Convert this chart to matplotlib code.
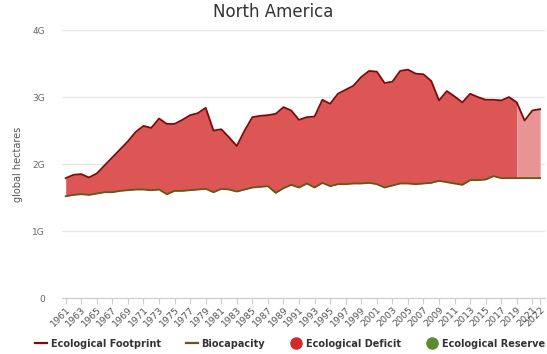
import numpy as np
import matplotlib.pyplot as plt
from matplotlib.lines import Line2D

# data (billions of global hectares)
years = np.arange(1961, 2023)
footprint = [
    1.79, 1.84, 1.85, 1.80, 1.86, 1.98, 2.10, 2.22, 2.34, 2.48,
    2.57, 2.54, 2.68, 2.60, 2.60, 2.66, 2.73, 2.76, 2.84, 2.50,
    2.52, 2.40, 2.27, 2.50, 2.70, 2.72, 2.73, 2.75, 2.85, 2.80,
    2.66, 2.70, 2.71, 2.96, 2.90, 3.05, 3.11, 3.17, 3.30, 3.39,
    3.38, 3.21, 3.23, 3.39, 3.41, 3.35, 3.34, 3.24, 2.95, 3.09,
    3.01, 2.92, 3.05, 3.00, 2.96, 2.96, 2.95, 3.00, 2.92, 2.65,
    2.80, 2.82,
]
biocapacity = [
    1.52, 1.54, 1.55, 1.54, 1.56, 1.58, 1.58, 1.60, 1.61, 1.62,
    1.62, 1.61, 1.62, 1.55, 1.60, 1.60, 1.61, 1.62, 1.63, 1.58,
    1.63, 1.62, 1.59, 1.62, 1.65, 1.66, 1.67, 1.57, 1.64, 1.69,
    1.65, 1.71, 1.65, 1.72, 1.67, 1.70, 1.70, 1.71, 1.71, 1.72,
    1.70, 1.65, 1.68, 1.71, 1.71, 1.70, 1.71, 1.72, 1.75, 1.73,
    1.71, 1.69, 1.76, 1.76, 1.77, 1.82, 1.79, 1.79, 1.79, 1.79,
    1.79, 1.79,
]
nowcast_from = 2019
tick_years = list(range(1961, 2022, 2)) + [2022]
ytick_vals = [0, 1, 2, 3, 4]
ytick_labels = ["0", "1G", "2G", "3G", "4G"]

fp = np.array(footprint)
bc = np.array(biocapacity)

fig = plt.figure(figsize=(5.47, 3.54), dpi=100)
ax = fig.add_axes([0.113, 0.158, 0.883, 0.757])

deficit_col = "#dc5656"
light_col = "#e89494"
fp_col = "#7d0a0a"
bc_col = "#5f5a17"

# dark fill up to the last measured year, lighter after
m = years <= nowcast_from
ax.fill_between(years[m], bc[m], fp[m], where=fp[m] >= bc[m],
                color=deficit_col, lw=0, zorder=2)
m2 = years >= nowcast_from
ax.fill_between(years[m2], bc[m2], fp[m2], color=light_col, lw=0, zorder=2)
ax.plot(years, fp, color=fp_col, lw=1.3, zorder=3)
ax.plot(years, bc, color=bc_col, lw=1.3, zorder=3)

ax.set_xlim(1960.5, 2022.6)
ax.set_ylim(0, 4)
ax.set_yticks(ytick_vals)
ax.set_yticklabels(ytick_labels)
ax.set_xticks(tick_years)
ax.set_xticklabels([str(y) for y in tick_years], rotation=45, ha="right",
                   rotation_mode="anchor")
ax.grid(axis="y", color="#e6e6e6", lw=0.9, zorder=0)
ax.set_axisbelow(True)
for s in ["top", "right", "left"]:
    ax.spines[s].set_visible(False)
ax.spines["bottom"].set_color("#cccccc")
ax.tick_params(axis="y", length=0, labelsize=6.5, labelcolor="#666666", pad=12)
ax.tick_params(axis="x", length=4, color="#cccccc", labelsize=6.8,
               labelcolor="#555555", pad=1)
ax.set_ylabel("global hectares", fontsize=7, color="#555555", labelpad=7)
fig.text(0.5, 0.965, "North America", ha="center", va="center",
         fontsize=12, color="#333333")

handles = [
    Line2D([], [], color=fp_col, lw=1.6),
    Line2D([], [], color=bc_col, lw=1.6),
    Line2D([], [], color="#d42a2a", marker="o", ms=8, lw=0),
    Line2D([], [], color="#5c8a2e", marker="o", ms=8, lw=0),
]
labels = ["Ecological Footprint", "Biocapacity", "Ecological Deficit",
          "Ecological Reserve"]
fig.legend(handles, labels, loc="lower center", bbox_to_anchor=(0.53, -0.01),
           ncol=4, frameon=False, prop={"size": 7, "weight": "bold"},
           handlelength=1.2, handletextpad=0.4, columnspacing=2.6,
           labelcolor="#333333")

fig.savefig("out.png", dpi=100)
